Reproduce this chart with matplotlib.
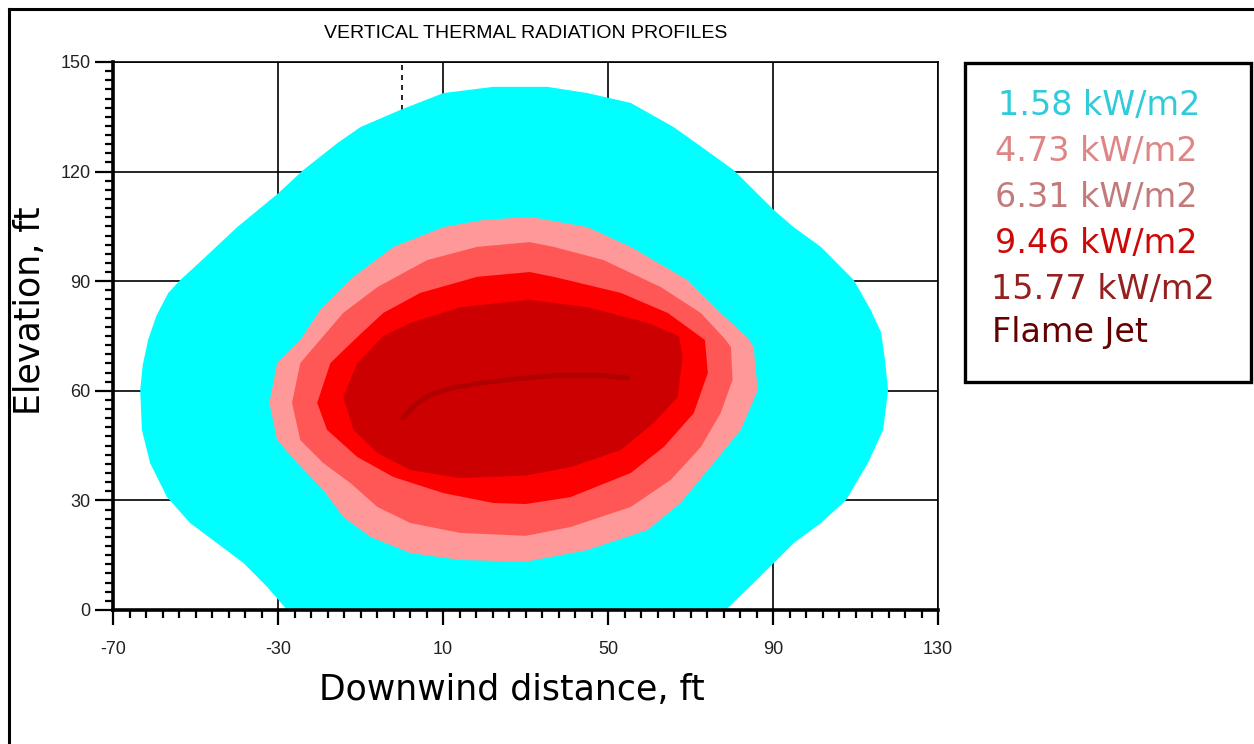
import matplotlib.pyplot as plt
from matplotlib.patches import Rectangle
from matplotlib.lines import Line2D
from matplotlib.ticker import MultipleLocator

plt.rcParams['axes.unicode_minus'] = False

# contour outlines (downwind ft, elevation ft)
cyan_x = [35.3, 28.8, 22.2, 10.1, -0.3, -10, -15.6, -23.9, -30, -39.9, -48.4, -53.7, -56.6, -59.5, -61.5,
          -62.8, -63.4, -63, -61, -56.9, -51.3, -44.8, -38.4, -32.6, -27.8, 78.5, 85.3, 90.2, 95, 101.6,
          107.7, 113, 116.7, 117.9, 117.2, 116.2, 113.7, 109.6, 101.6, 95, 90.2, 80.5, 73, 65.9, 55.5, 45]
cyan_y = [143.2, 143.2, 143.2, 141.5, 136.9, 132.2, 127.8, 120.4, 114, 104.8, 95.8, 90.3, 86.8, 80.5, 73.9,
          67, 60.2, 49.3, 40.2, 30.9, 23.8, 18.3, 12.9, 6.3, 0, 0, 7.4, 12.9, 18.3, 23.8,
          30.1, 40.2, 49.3, 60.2, 68, 76, 82.1, 90.3, 99.4, 104.8, 109.5, 120.4, 126.5, 132.2, 138.8, 141.5]

pink_x = [31.2, 20, 10.1, -2, -11.7, -19.8, -24.6, -30.2, -32.1, -30.2, -25.3, -19, -14.2, -7.6, 2.1,
          14.2, 30, 45, 59.6, 67.6, 75.6, 82.2, 86.3, 85.3, 83.9, 77.3, 69.3, 55.5, 45]
pink_y = [107.6, 106.8, 104.8, 99.4, 91.2, 82.1, 73.9, 67.6, 56.7, 46.5, 40.2, 32.8, 25.5, 20, 15.6,
          13.7, 13.2, 16.4, 21.9, 29.3, 40.2, 49.3, 60.2, 72, 74.5, 81.3, 90.3, 99.4, 104.8]

salmon_x = [31, 18.3, 6.2, -5.9, -14.2, -19, -24.6, -26.6, -24.6, -19, -12.5, -5.9, 2.1, 14.2,
            30, 40.9, 55.5, 65.2, 72.5, 77.3, 80.2, 79.8, 78.1, 72.5, 62.8, 48.9, 36.8]
salmon_y = [100.7, 99.4, 95.8, 88.4, 81.3, 75, 67.6, 56.7, 46.5, 40.2, 34.8, 28.2, 23.8, 21.1,
            20.3, 22.7, 28.2, 35.6, 44.6, 53.9, 63, 72, 74.5, 81.3, 88.4, 95.8, 99.4]

red_x = [31, 18.3, 4.5, -4.5, -10.5, -17.3, -20.5, -18.1, -10.8, -2, 10.1, 22.2, 30, 40.9,
         55.5, 63.5, 70.8, 74.2, 73.5, 64.5, 53.1, 36.8]
red_y = [92.5, 91.2, 86.8, 81.3, 75, 67.6, 56.7, 49.3, 41.9, 36.4, 32, 29.3, 29, 30.9,
         37.5, 44.6, 53.9, 64.9, 73.9, 81.3, 86.8, 91.2]

dark_x = [31, 14.2, 2.1, -4.5, -10.8, -14.2, -11.7, -5.9, 2.1, 14.2, 30, 40.9, 53.1, 61.1,
          66.9, 68.1, 67.2, 59.6, 45]
dark_y = [84.9, 82.9, 78.6, 75, 67.6, 58.3, 49.3, 43, 38.3, 36.1, 36.8, 39.1, 43.8, 51.2,
          58.3, 69.3, 75, 78.6, 82.9]

jet_x = [0.4, 3, 6.9, 12, 19.1, 28, 38.5, 47, 54.8]
jet_y = [52.6, 56, 58.9, 60.8, 62.1, 63.3, 64.3, 64.3, 63.5]

legend_labels = ['1.58 kW/m2', '4.73 kW/m2', '6.31 kW/m2', '9.46 kW/m2', '15.77 kW/m2', 'Flame Jet']
legend_colors = ['#2fcbd9', '#de8585', '#c27a7a', '#cc0808', '#952020', '#650000']

fig = plt.figure(figsize=(12.54, 7.44), dpi=100)
ax = fig.add_axes([113 / 1254, 134 / 744, 825 / 1254, 548 / 744])

ax.fill(cyan_x, cyan_y, color='#00ffff', lw=0, zorder=2)
ax.fill(pink_x, pink_y, color='#ff9999', lw=0, zorder=3)
ax.fill(salmon_x, salmon_y, color='#ff5656', lw=0, zorder=4)
ax.fill(red_x, red_y, color='#ff0000', lw=0, zorder=5)
ax.fill(dark_x, dark_y, color='#cc0000', lw=0, zorder=6)
ax.plot(jet_x, jet_y, color='#b00000', lw=3.5, solid_capstyle='round', zorder=7)

ax.set_xlim(-70, 130)
ax.set_ylim(0, 150)
ax.xaxis.set_major_locator(MultipleLocator(40, offset=10))
ax.xaxis.set_minor_locator(MultipleLocator(4, offset=2))
ax.yaxis.set_major_locator(MultipleLocator(30))
ax.yaxis.set_minor_locator(MultipleLocator(2.5))
ax.grid(True, which='major', color='black', lw=1.2, zorder=1)
ax.set_axisbelow(True)
ax.axvline(0, color='black', lw=1.2, ls=(0, (3, 3)), zorder=1)

ax.tick_params(which='major', direction='out', length=11, width=1.6, colors='black',
               labelcolor='#222222', labelsize=13)
ax.tick_params(which='minor', direction='out', length=6, width=1.6, colors='black')
ax.tick_params(axis='x', which='major', pad=11)
ax.tick_params(axis='y', which='major', length=13, pad=3)
for lab in ax.get_xticklabels() + ax.get_yticklabels():
    lab.set_fontfamily('Liberation Sans')

ax.spines['left'].set_linewidth(2.6)
ax.spines['bottom'].set_linewidth(2.6)
ax.spines['top'].set_linewidth(1.2)
ax.spines['right'].set_linewidth(1.2)
for s in ax.spines.values():
    s.set_zorder(8)

ax.set_title('VERTICAL THERMAL RADIATION PROFILES', fontsize=14, family='Liberation Sans', pad=17)
ax.set_xlabel('Downwind distance, ft', fontsize=25, va='center')
ax.xaxis.set_label_coords(0.484, -0.146)
ax.set_ylabel('Elevation, ft', fontsize=25, va='center')
ax.yaxis.set_label_coords(-0.100, 0.546)

# legend box
fig.patches.append(Rectangle((965 / 1254, 362 / 744), 286 / 1254, 319 / 744, transform=fig.transFigure,
                             fill=False, ec='black', lw=2.4))
lx = [998, 995, 995, 995, 991, 992]
ly = [105, 152, 197, 243, 289, 333]
for t, c, x, y in zip(legend_labels, legend_colors, lx, ly):
    fig.text(x / 1254, 1 - y / 744, t, color=c, fontsize=24, va='center', ha='left')

# outer frame (left and top edges)
fig.add_artist(Line2D([9 / 1254, 9 / 1254], [0, 1 - 9 / 744], color='black', lw=2.2,
                      transform=fig.transFigure))
fig.add_artist(Line2D([9 / 1254, 1], [1 - 9 / 744, 1 - 9 / 744], color='black', lw=2.2,
                      transform=fig.transFigure))

fig.savefig('out.png', dpi=100)
